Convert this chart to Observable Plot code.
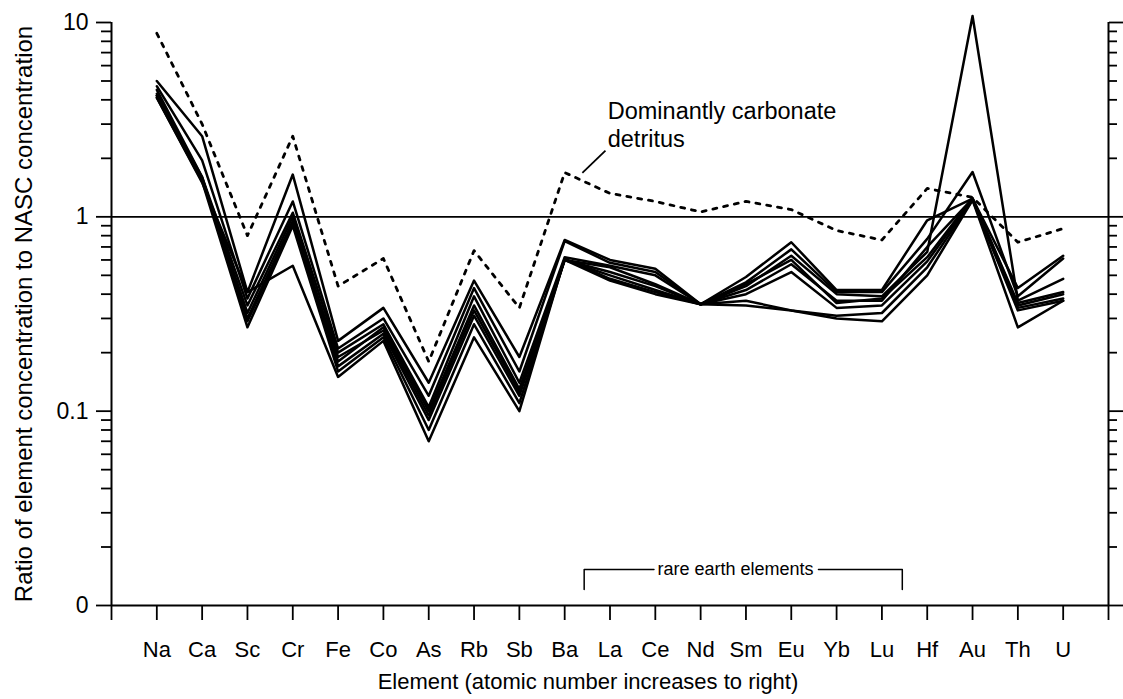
<!DOCTYPE html>
<html>
<head>
<meta charset="utf-8">
<script src="https://cdn.jsdelivr.net/npm/d3@7"></script>
<script src="https://cdn.jsdelivr.net/npm/@observablehq/plot@0.6"></script>
<style>
  html, body { margin: 0; padding: 0; background: #fff; }
  #chart { width: 1123px; height: 699px; }
</style>
</head>
<body>
<div id="chart"></div>
<script>
// Elements in order of increasing atomic number (left to right)
const elements = ["Na","Ca","Sc","Cr","Fe","Co","As","Rb","Sb","Ba","La","Ce","Nd","Sm","Eu","Yb","Lu","Hf","Au","Th","U"];

// Sample / NASC concentration ratios, one array per sample
const sampleNames = ["S1","S2","S3","S4","S5","S6","S7","S8"];
const s1 = [5.0, 2.6, 0.41, 1.65, 0.23, 0.34, 0.14, 0.47, 0.19, 0.76, 0.60, 0.54, 0.355, 0.49, 0.74, 0.42, 0.42, 0.96, 1.24, 0.43, 0.63];
const s2 = [4.7, 1.95, 0.38, 1.2, 0.21, 0.30, 0.12, 0.43, 0.16, 0.75, 0.58, 0.52, 0.355, 0.46, 0.68, 0.41, 0.41, 0.77, 1.7, 0.39, 0.61];
const s3 = [4.5, 1.6, 0.35, 1.05, 0.20, 0.28, 0.105, 0.39, 0.14, 0.62, 0.56, 0.50, 0.355, 0.44, 0.63, 0.40, 0.39, 0.66, 10.8, 0.37, 0.48];
const s4 = [4.3, 1.58, 0.32, 1.0, 0.18, 0.27, 0.10, 0.35, 0.13, 0.60, 0.55, 0.45, 0.355, 0.42, 0.57, 0.37, 0.37, 0.70, 1.24, 0.36, 0.41];
const s5 = [4.2, 1.55, 0.30, 0.95, 0.17, 0.25, 0.09, 0.31, 0.12, 0.60, 0.50, 0.42, 0.355, 0.40, 0.52, 0.34, 0.35, 0.59, 1.23, 0.34, 0.38];
const s6 = [4.1, 1.52, 0.27, 0.90, 0.16, 0.24, 0.08, 0.28, 0.11, 0.60, 0.47, 0.40, 0.355, 0.37, 0.33, 0.31, 0.32, 0.55, 1.22, 0.33, 0.37];
const s7 = [4.1, 1.5, 0.41, 0.56, 0.15, 0.23, 0.07, 0.24, 0.10, 0.61, 0.48, 0.41, 0.355, 0.35, 0.33, 0.30, 0.29, 0.50, 1.22, 0.27, 0.37];
const s8 = [4.2, 1.6, 0.29, 0.92, 0.19, 0.26, 0.095, 0.33, 0.125, 0.60, 0.52, 0.44, 0.355, 0.45, 0.60, 0.36, 0.38, 0.62, 1.25, 0.35, 0.40];
const samples = [s1, s2, s3, s4, s5, s6, s7, s8];

// Dominantly carbonate detritus (dotted)
const carbonate = [8.8, 3.0, 0.80, 2.6, 0.44, 0.61, 0.18, 0.67, 0.34, 1.69, 1.32, 1.20, 1.06, 1.20, 1.09, 0.85, 0.76, 1.40, 1.26, 0.74, 0.87];

// Y axis ticks and labels (bottom decade is labelled "0")
const majorTicks = [0.01, 0.1, 1, 10];
const majorLabels = ["0", "0.1", "1", "10"];
const minorMultipliers = [2, 3, 4, 5, 6, 7, 8, 9];
const minorTicks = [0.01, 0.1, 1].flatMap(d => minorMultipliers.map(k => k * d));

// Annotations
const yTitle = "Ratio of element concentration to NASC concentration";
const xTitle = "Element (atomic number increases to right)";
const noteText = "Dominantly carbonate\ndetritus";
const note = [{x: 10.95, y: 2.3}];
const noteLeader = [{x1: 10.39, y1: 1.685, x2: 10.9, y2: 2.19}];
const reeLabel = "rare earth elements";
const reeText = [{x: 13.77, y: 0.0153}];
const reeLeft = [{x: 10.43, y: 0.0121}, {x: 10.43, y: 0.0153}, {x: 11.97, y: 0.0153}];
const reeRight = [{x: 15.6, y: 0.0153}, {x: 17.45, y: 0.0153}, {x: 17.45, y: 0.0121}];

const n = elements.length;
const rows = sampleNames.flatMap((name, s) =>
  elements.map((el, i) => ({sample: name, element: el, pos: i + 1, value: samples[s][i]})));
const carbRows = elements.map((el, i) => ({element: el, pos: i + 1, value: carbonate[i]}));

const chart = Plot.plot({
  width: 1123,
  height: 699,
  marginLeft: 111,
  marginRight: 15,
  marginTop: 22,
  marginBottom: 94,
  style: {fontFamily: "'Liberation Sans', Arial, Helvetica, sans-serif", color: "#000", background: "#fff", overflow: "visible"},
  x: {domain: [0, n + 1], axis: null},
  y: {type: "log", domain: [0.01, 10], axis: null},
  marks: [
    // element axis
    Plot.axisX({ticks: d3.range(0, n + 2), tickSize: 15, tickPadding: 21, strokeWidth: 1.8,
      tickFormat: i => elements[i - 1] ?? "", fontSize: 22, label: null}),
    // left log axis
    Plot.axisY({anchor: "left", ticks: majorTicks, tickSize: 15, tickPadding: 8, strokeWidth: 1.8,
      tickFormat: d => majorLabels[majorTicks.indexOf(d)], fontSize: 23, label: null}),
    Plot.axisY({anchor: "left", ticks: minorTicks, tickSize: 10, strokeWidth: 1.8,
      tickFormat: () => "", label: null}),
    // right log axis
    Plot.axisY({anchor: "right", ticks: majorTicks, tickSize: 14, strokeWidth: 1.8,
      tickFormat: () => "", label: null}),
    Plot.axisY({anchor: "right", ticks: minorTicks, tickSize: 8, strokeWidth: 1.8,
      tickFormat: () => "", label: null}),
    Plot.ruleX([0, n + 1], {strokeWidth: 2}),
    Plot.ruleY([0.01], {strokeWidth: 2}),
    Plot.ruleY([1], {strokeWidth: 1.8}),
    // samples
    Plot.line(rows, {x: "pos", y: "value", z: "sample", stroke: "#000", strokeWidth: 2.5}),
    // carbonate detritus reference
    Plot.line(carbRows, {x: "pos", y: "value", stroke: "#000", strokeWidth: 2.8,
      strokeDasharray: "4,7"}),
    // annotation
    Plot.text(note, {x: "x", y: "y", text: () => noteText, textAnchor: "start", lineAnchor: "bottom",
      lineHeight: 1.17, fontSize: 23.5}),
    Plot.link(noteLeader, {x1: "x1", y1: "y1", x2: "x2", y2: "y2", stroke: "#000", strokeWidth: 1.8}),
    // rare earth bracket
    Plot.line(reeLeft, {x: "x", y: "y", stroke: "#000", strokeWidth: 1.5}),
    Plot.line(reeRight, {x: "x", y: "y", stroke: "#000", strokeWidth: 1.5}),
    Plot.text(reeText, {x: "x", y: "y", text: () => reeLabel, fontSize: 18, lineAnchor: "middle"}),
    // axis titles
    Plot.text([yTitle], {frameAnchor: "left", dx: -87, rotate: -90, textAnchor: "middle",
      lineAnchor: "middle", fontSize: 24}),
    Plot.text([xTitle], {frameAnchor: "bottom", dx: -22, dy: 83, lineAnchor: "bottom", fontSize: 22})
  ]
});

document.getElementById("chart").appendChild(chart);
</script>
</body>
</html>
